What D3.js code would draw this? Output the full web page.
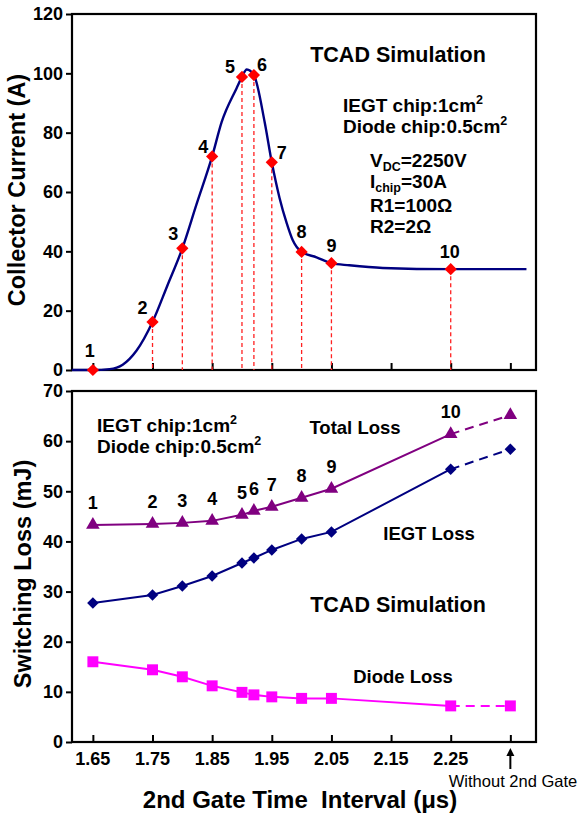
<!DOCTYPE html>
<html><head><meta charset="utf-8">
<script src="https://cdn.jsdelivr.net/npm/d3@7"></script>
<style>
html,body{margin:0;padding:0;background:#fff;}
svg{display:block;font-family:"Liberation Sans",Arial,sans-serif;}
</style></head>
<body>
<svg id="c" width="579" height="815"></svg>
<script>
// ---------------- DATA ----------------
const xTickValues = [1.65, 1.75, 1.85, 1.95, 2.05, 2.15, 2.25, 2.35];
const xTickLabels = ["1.65", "1.75", "1.85", "1.95", "2.05", "2.15", "2.25", ""];
const topYTicks = [0, 20, 40, 60, 80, 100, 120];
const botYTicks = [0, 10, 20, 30, 40, 50, 60, 70];

const pointIds = ["1", "2", "3", "4", "5", "6", "7", "8", "9", "10"];
const pointTimes = [1.65, 1.75, 1.80, 1.85, 1.90, 1.92, 1.95, 2.00, 2.05, 2.25];
const pointCurrent = [0, 16.2, 41, 72, 98.8, 99.4, 70, 39.8, 36, 34];

const curveTime = [1.615, 1.65, 1.678, 1.70, 1.723, 1.75, 1.775, 1.80, 1.824, 1.85, 1.866, 1.891, 1.90, 1.908, 1.92, 1.938, 1.95, 1.963, 1.975, 1.985, 2.00, 2.025, 2.05, 2.08, 2.136, 2.25, 2.377];
const curveCurrent = [0, 0, 0.3, 1.8, 6.5, 16.2, 28.5, 41, 56, 72, 83.6, 95, 98.8, 101.3, 99.4, 83.6, 70, 58, 49.5, 43.8, 39.8, 38, 36, 35.3, 34.4, 34, 34];

const lossTime = [1.65, 1.75, 1.80, 1.85, 1.90, 1.92, 1.95, 2.00, 2.05, 2.25, 2.35];
const totalLoss = [43.3, 43.5, 43.7, 44.1, 45.3, 46.1, 46.9, 48.7, 50.5, 61.4, 65.2];
const iegtLoss  = [27.7, 29.3, 31.1, 33.1, 35.7, 36.7, 38.3, 40.5, 41.9, 54.4, 58.4];
const diodeLoss = [16.0, 14.4, 13.0, 11.2, 9.9, 9.4, 9.0, 8.7, 8.7, 7.2, 7.2];

// label offsets for top-panel point numbers (layout)
const topLabelDx = [-3, -10, -9, -9, -12, 8, 10, 0, 0, -1];
const topLabelDy = [-19, -14, -15, -10, -10, -10, -10, -20, -18, -17];

// ---------------- LAYOUT ----------------
const svg = d3.select("#c");
const L = 72, R = 536;
const topT = 14, topB = 370;
const botT = 391, botB = 742;

const x = d3.scaleLinear().domain([1.615, 2.393]).range([L, R]);
const yTop = d3.scaleLinear().domain([0, 120]).range([topB, topT]);
const yBot = d3.scaleLinear().domain([0, 70]).range([botB, botT]);

const NAVY = "#000080", RED = "#ff0000", PURPLE = "#800080", MAG = "#ff00ff";
const bold = "bold";

function frame(yScale, top, bottom, yticks) {
  const g = svg.append("g");
  const ya = g.append("g").attr("transform", `translate(${L},0)`)
    .call(d3.axisLeft(yScale).tickValues(yticks).tickSize(6).tickPadding(3).tickFormat(d3.format("d")));
  ya.select(".domain").remove();
  ya.selectAll(".tick line").attr("stroke", "#000").attr("stroke-width", 2);
  ya.selectAll(".tick text").attr("font-size", 18).attr("font-weight", bold)
    .attr("font-family", '"Liberation Sans",Arial,sans-serif').attr("fill", "#000");
  const xa = g.append("g").attr("transform", `translate(0,${bottom})`)
    .call(d3.axisTop(x).tickValues(xTickValues).tickSize(7).tickFormat(""));
  xa.select(".domain").remove();
  xa.selectAll(".tick line").attr("stroke", "#000").attr("stroke-width", 2);
  g.append("rect").attr("x", L).attr("y", top).attr("width", R - L).attr("height", bottom - top)
    .attr("fill", "none").attr("stroke", "#000").attr("stroke-width", 2.2);
}

frame(yTop, topT, topB, topYTicks);
frame(yBot, botT, botB, botYTicks);

// ---------------- TOP PANEL ----------------
const topG = svg.append("g");
topG.selectAll("line.drop").data(pointTimes.map((t, i) => [t, pointCurrent[i]])).enter()
  .append("line").attr("class", "drop")
  .attr("x1", d => x(d[0])).attr("x2", d => x(d[0]))
  .attr("y1", d => yTop(d[1])).attr("y2", topB)
  .attr("stroke", "#ff2020").attr("stroke-width", 1.3).attr("stroke-dasharray", "4,3");

const curveData = curveTime.map((t, i) => [t, curveCurrent[i]]);
topG.append("path").datum(curveData)
  .attr("d", d3.line().x(d => x(d[0])).y(d => yTop(d[1])).curve(d3.curveMonotoneX))
  .attr("fill", "none").attr("stroke", NAVY).attr("stroke-width", 2.4);

const diamondTop = d3.symbol().type(d3.symbolSquare).size(75);
topG.selectAll("path.pt").data(pointTimes.map((t, i) => [t, pointCurrent[i]])).enter()
  .append("path").attr("class", "pt").attr("d", diamondTop)
  .attr("transform", d => `translate(${x(d[0])},${yTop(d[1])}) rotate(45)`)
  .attr("fill", RED);

topG.selectAll("text.num").data(pointIds).enter().append("text")
  .attr("x", (d, i) => x(pointTimes[i]) + topLabelDx[i])
  .attr("y", (d, i) => yTop(pointCurrent[i]) + topLabelDy[i])
  .attr("dy", "0.35em").attr("text-anchor", "middle")
  .attr("font-size", 18).attr("font-weight", bold).text(d => d);

function txt(xp, yp, size, content, anchor) {
  return svg.append("text").attr("x", xp).attr("y", yp).attr("font-size", size)
    .attr("font-weight", bold).attr("text-anchor", anchor || "start").text(content);
}
txt(398, 62, 21.5, "TCAD Simulation", "middle");

function chipLines(x0, y0) {
  const t1 = svg.append("text").attr("x", x0).attr("y", y0).attr("font-size", 19).attr("font-weight", bold);
  t1.append("tspan").text("IEGT chip:1cm");
  t1.append("tspan").attr("font-size", 12.5).attr("dy", -8).text("2");
  const t2 = svg.append("text").attr("x", x0).attr("y", y0 + 21).attr("font-size", 19).attr("font-weight", bold);
  t2.append("tspan").text("Diode chip:0.5cm");
  t2.append("tspan").attr("font-size", 12.5).attr("dy", -8).text("2");
}
chipLines(343, 112);

function subLine(x0, y0, main, sub, rest) {
  const t = svg.append("text").attr("x", x0).attr("y", y0).attr("font-size", 19).attr("font-weight", bold);
  t.append("tspan").text(main);
  t.append("tspan").attr("font-size", 12.5).attr("dy", 4).text(sub);
  t.append("tspan").attr("dy", -4).text(rest);
}
subLine(370, 167, "V", "DC", "=2250V");
subLine(370, 188, "I", "chip", "=30A");
txt(370, 212, 19, "R1=100\u03A9");
txt(370, 233, 19, "R2=2\u03A9");

// ---------------- BOTTOM PANEL ----------------
const botG = svg.append("g");
const series = [
  {vals: totalLoss, color: PURPLE, sym: d3.symbolTriangle, size: 80},
  {vals: iegtLoss, color: NAVY, sym: d3.symbolSquare, size: 66, rot: 45},
  {vals: diodeLoss, color: MAG, sym: d3.symbolSquare, size: 120}
];
series.forEach(s => {
  const pts = lossTime.map((t, i) => [t, s.vals[i]]);
  const ln = d3.line().x(d => x(d[0])).y(d => yBot(d[1]));
  botG.append("path").datum(pts.slice(0, 10)).attr("d", ln)
    .attr("fill", "none").attr("stroke", s.color).attr("stroke-width", 2);
  botG.append("path").datum(pts.slice(9)).attr("d", ln)
    .attr("fill", "none").attr("stroke", s.color).attr("stroke-width", 2).attr("stroke-dasharray", "9,6");
  botG.selectAll(null).data(pts).enter().append("path")
    .attr("d", d3.symbol().type(s.sym).size(s.size))
    .attr("transform", d => `translate(${x(d[0])},${yBot(d[1])})` + (s.rot ? ` rotate(${s.rot})` : ""))
    .attr("fill", s.color);
});

botG.selectAll("text.num").data(pointIds).enter().append("text")
  .attr("x", (d, i) => x(lossTime[i]))
  .attr("y", (d, i) => yBot(totalLoss[i]) - 22)
  .attr("dy", "0.35em").attr("text-anchor", "middle")
  .attr("font-size", 18).attr("font-weight", bold).text(d => d);

chipLines(97, 432);
txt(355, 434, 18.5, "Total Loss", "middle");
txt(429, 540, 18.5, "IEGT Loss", "middle");
txt(398, 612, 21.5, "TCAD Simulation", "middle");
txt(403, 683, 18.5, "Diode Loss", "middle");

svg.append("g").selectAll("text").data(xTickValues).enter().append("text")
  .attr("x", d => x(d)).attr("y", 765).attr("text-anchor", "middle")
  .attr("font-size", 18).attr("font-weight", bold).text((d, i) => xTickLabels[i]);

const ax = x(2.35);
svg.append("line").attr("x1", ax).attr("x2", ax).attr("y1", 769).attr("y2", 754)
  .attr("stroke", "#000").attr("stroke-width", 2);
svg.append("path").attr("d", `M${ax - 4},${756} L${ax},${748} L${ax + 4},${756} Z`).attr("fill", "#000");
svg.append("text").attr("x", 513).attr("y", 787).attr("text-anchor", "middle")
  .attr("font-size", 16.5).text("Without 2nd Gate");

svg.append("text").attr("transform", "translate(25,190) rotate(-90)").attr("text-anchor", "middle")
  .attr("font-size", 23.5).attr("font-weight", bold).text("Collector Current (A)");
svg.append("text").attr("transform", "translate(31,574) rotate(-90)").attr("text-anchor", "middle")
  .attr("font-size", 23.5).attr("font-weight", bold).text("Switching Loss (mJ)");
svg.append("text").attr("x", 300).attr("y", 808).attr("text-anchor", "middle")
  .attr("font-size", 24).attr("font-weight", bold).style("white-space", "pre")
  .text("2nd Gate Time  Interval (\u03BCs)");
</script>
</body></html>
